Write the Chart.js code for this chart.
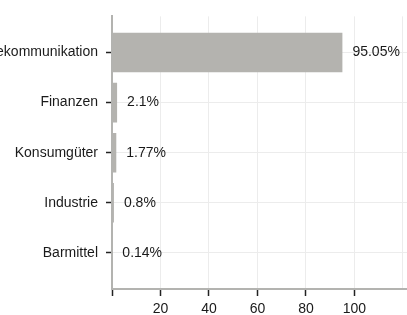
<!DOCTYPE html>
<html>
<head>
<meta charset="utf-8">
<script src="https://cdn.jsdelivr.net/npm/chart.js@4/dist/chart.umd.min.js"></script>
<style>
  html, body { margin:0; padding:0; background:#fff; }
  #wrap { position:relative; width:407px; height:315px; overflow:hidden; }
  #chart { position:absolute; left:-40px; top:0; }
</style>
</head>
<body>
<div id="wrap"><canvas id="chart" width="455" height="315"></canvas></div>
<script>
// sector weights (%)
const categories = ['Telekommunikation', 'Finanzen', 'Konsumgüter', 'Industrie', 'Barmittel'];
const weights = [95.05, 2.1, 1.77, 0.8, 0.14];
const xTicks = [0, 20, 40, 60, 80, 100, 120];
const xLabelled = [20, 40, 60, 80, 100];   // 0 and 120 get no label

const FONT = '"Liberation Sans", Arial, sans-serif';
const TEXT = '#1a1a1a';
const BAR = '#b4b3af';
const AXIS = '#b3b3b0';

// draws "95.05%" etc. just right of each bar
const valueLabels = {
  id: 'valueLabels',
  afterDatasetsDraw(chart){
    const ctx = chart.ctx;
    const meta = chart.getDatasetMeta(0);
    ctx.save();
    ctx.font = '14px ' + FONT; ctx.fillStyle = TEXT;
    ctx.textAlign = 'left'; ctx.textBaseline = 'middle';
    meta.data.forEach((bar, i) => ctx.fillText(weights[i] + '%', bar.x + 10, bar.y));
    ctx.restore();
  }
};

function draw(){
  new Chart(document.getElementById('chart'), {
    type: 'bar',
    data: {
      datasets: [{
        data: weights.map((v, i) => ({x: v, y: i})),
        backgroundColor: BAR,
        barPercentage: 0.79,
        categoryPercentage: 1
      }]
    },
    options: {
      indexAxis: 'y',
      responsive: false,
      animation: false,
      layout: { padding: { top: 16, right: 0, left: 0, bottom: 0 } },
      plugins: { legend: { display: false }, tooltip: { enabled: false } },
      scales: {
        x: {
          type: 'linear', min: 0, max: 125,
          afterFit(scale){ scale.height = 26; },
          afterBuildTicks(scale){ scale.ticks = xTicks.map(v => ({value: v})); },
          ticks: { color: TEXT, font: { family: FONT, size: 14 }, padding: 5,
                   callback: v => xLabelled.includes(v) ? String(v) : '' },
          grid: { color: '#ececec', lineWidth: 1, tickLength: 7, tickWidth: 1.5,
                  tickColor: c => (c.tick && c.tick.value > 100) ? 'rgba(0,0,0,0)' : '#222' },
          border: { color: AXIS, width: 2 }
        },
        y: {
          type: 'linear', reverse: true, min: -0.72, max: 4.72,
          offset: false, bounds: 'data',
          afterFit(scale){ scale.width = 152; },
          afterBuildTicks(scale){ scale.ticks = categories.map((c, i) => ({value: i})); },
          ticks: { color: TEXT, font: { family: FONT, size: 14 }, padding: 8,
                   callback: v => categories[v] },
          grid: { offset: false, color: '#ececec', lineWidth: 1, tickColor: '#222', tickLength: 6, tickWidth: 1.5 },
          border: { color: AXIS, width: 2 }
        }
      }
    },
    plugins: [valueLabels]
  });
}

if (document.fonts && document.fonts.load) {
  document.fonts.load('14px "Liberation Sans"').then(draw, draw);
} else draw();
</script>
</body>
</html>
